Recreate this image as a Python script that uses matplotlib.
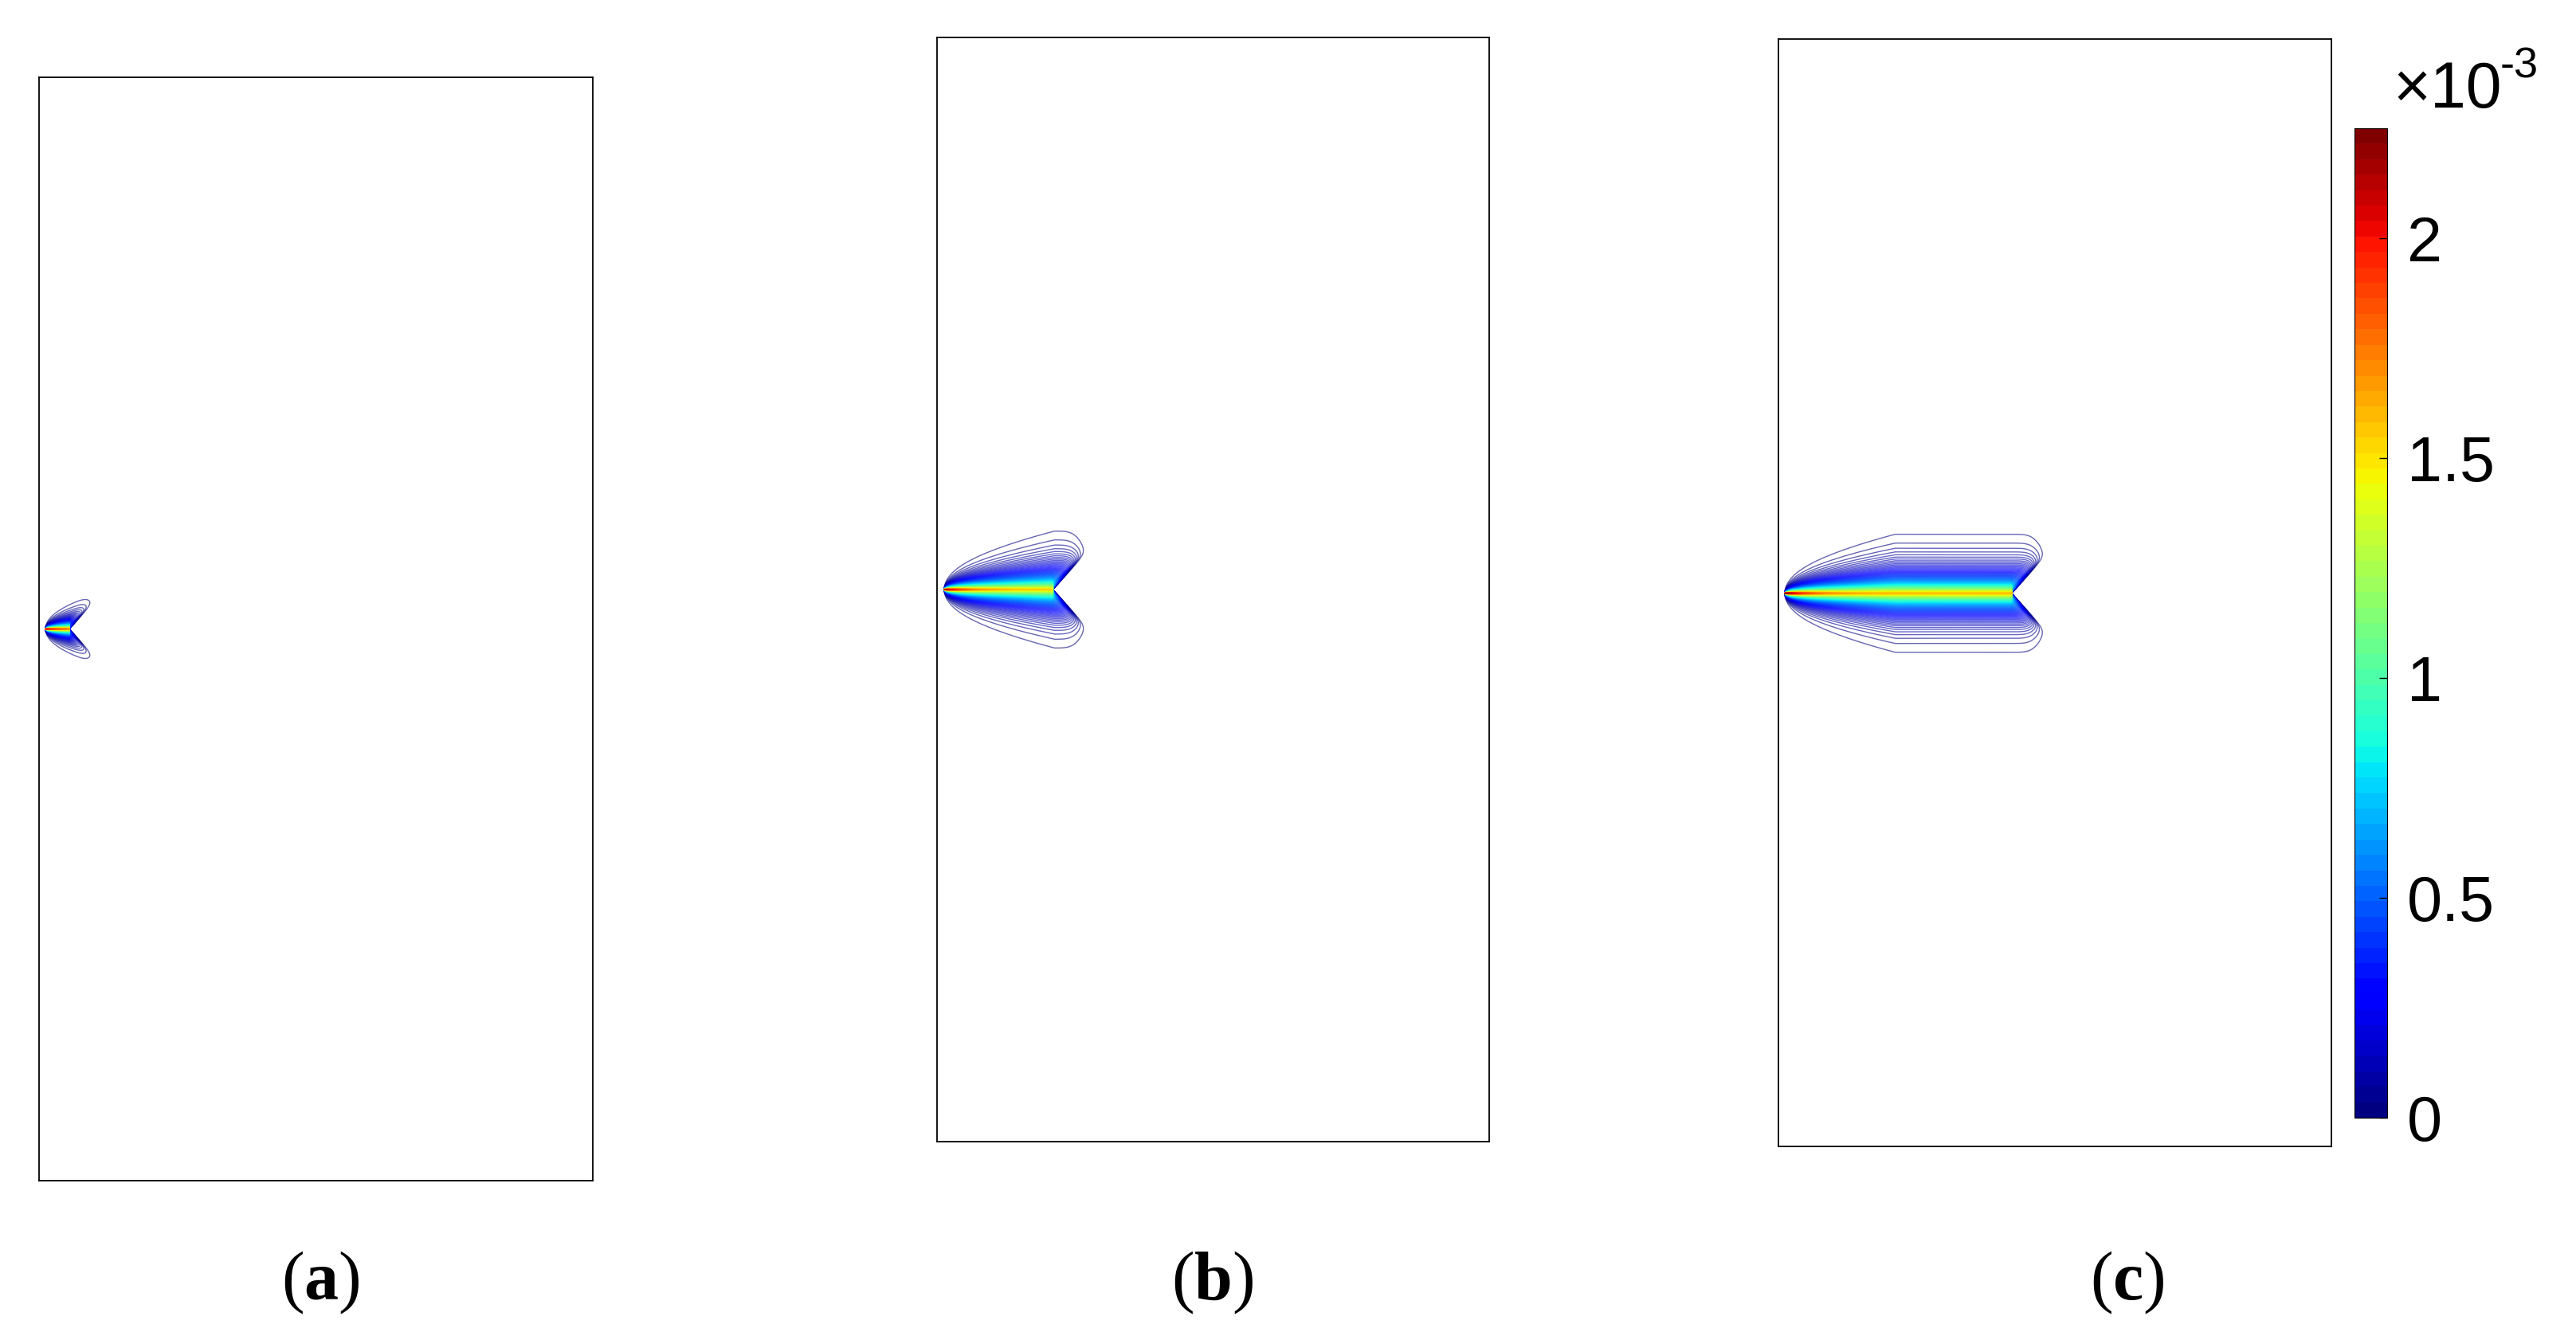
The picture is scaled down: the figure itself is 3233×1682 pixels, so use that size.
import numpy as np
import matplotlib
matplotlib.use('Agg')
import matplotlib.pyplot as plt
from matplotlib.colors import Normalize
from matplotlib.cm import ScalarMappable

# ---------------- data (field values in units of 1e-3) ----------------
panel_labels = ['a', 'b', 'c']
crack_start = [0.0115, 0.013, 0.0115]   # crack mouth x (domain width = 1, height = 2)
crack_tip = [0.055, 0.210, 0.422]       # crack tip x
crack_y = [1.0, 1.0, 0.999]             # crack line y
peak_mouth = [2.00, 2.15, 2.25]         # centre-line value at the mouth
peak_tip = [1.55, 1.55, 1.60]           # centre-line value along the crack
band_width = [0.020, 0.023, 0.023]      # decay length across the crack
wing_length = [0.045, 0.052, 0.052]     # extent of the wings beyond the tip
nose_length = [0.20, 0.20, 0.20]        # length of the tapered nose
notch_slope = 1.1
cbar_ticks = [0, 0.5, 1, 1.5, 2]
cbar_ticklabels = ['0', '0.5', '1', '1.5', '2']
vmin, vmax = 0.0, 2.25
level_step = 0.0156

# ---------------- layout (figure fractions) ----------------
W, H = 3233, 1682
def frac(l, t, r, b):
    return [l / W, 1 - b / H, (r - l) / W, (b - t) / H]

ax_rects = [frac(49, 97, 744, 1482), frac(1176, 47, 1869, 1433), frac(2232, 49, 2926, 1439)]
cbar_rect = frac(2955, 161, 2996, 1403)
label_pos = [(402, 1610), (1522, 1610), (2670, 1610)]

plt.rcParams['mathtext.fontset'] = 'custom'
plt.rcParams['mathtext.rm'] = 'Liberation Serif'
plt.rcParams['mathtext.bf'] = 'Liberation Serif:bold'

cmap = plt.get_cmap('jet', 64)
norm = Normalize(vmin=vmin, vmax=vmax)
levels = np.arange(level_step, vmax, level_step)


def field(i, X, Y):
    x0, a = crack_start[i], crack_tip[i]
    dy = np.abs(Y - crack_y[i])
    xs = X - x0
    P = np.sqrt(np.clip(xs / nose_length[i], 0, 1))
    lam = 0.045
    c = peak_tip[i] + (peak_mouth[i] - peak_tip[i]) * np.exp(-np.clip(xs, 0, None) / lam)
    Ps = np.maximum(P, 1e-9)
    core = np.where(P > 0, np.exp(-dy / (band_width[i] * Ps)), 0.0)
    u = X - a
    wedge = np.where(u > 0, 1 - np.exp(-np.clip(dy - notch_slope * u, 0, None) / 0.007), 1.0)
    cut = np.where(u > 0, np.exp(-(np.clip(u, 0, None) / wing_length[i]) ** 4), 1.0)
    return c * core * wedge * cut


fig = plt.figure(figsize=(W / 100, H / 100), dpi=100)

for i in range(3):
    ax = fig.add_axes(ax_rects[i])
    xs = np.arange(0.0, crack_tip[i] + 0.12, 0.0004)
    ys = np.arange(crack_y[i] - 0.15, crack_y[i] + 0.15, 0.0004)
    X, Y = np.meshgrid(xs, ys)
    Z = field(i, X, Y)
    ax.contour(X, Y, Z, levels=levels, cmap=cmap, norm=norm, linewidths=1.0, alpha=0.6)
    ax.set_xlim(0, 1)
    ax.set_ylim(0, 2)
    ax.set_xticks([])
    ax.set_yticks([])
    for sp in ax.spines.values():
        sp.set_linewidth(1.3)
        sp.set_color('black')
    lx, ly = label_pos[i]
    fig.text(lx / W, 1 - ly / H, r'($\mathbf{' + panel_labels[i] + r'}$)',
             ha='center', va='center', fontsize=62, family='Liberation Serif')

cax = fig.add_axes(cbar_rect)
cb = fig.colorbar(ScalarMappable(norm=norm, cmap=cmap), cax=cax, ticks=cbar_ticks)
cb.set_ticklabels(cbar_ticklabels)
cb.outline.set_linewidth(0.8)
cax.tick_params(direction='in', length=7, width=1, pad=18, labelsize=57, right=True, left=False)
for t in cax.get_yticklabels():
    t.set_family('Liberation Sans')

fig.text(3003 / W, 1 - 135 / H, '\u00d710', ha='left', va='baseline', fontsize=58,
         family='Liberation Sans')
fig.text(3138 / W, 1 - 98 / H, '-3', ha='left', va='baseline', fontsize=39,
         family='Liberation Sans')

fig.savefig('out.png', dpi=100, facecolor='white')
